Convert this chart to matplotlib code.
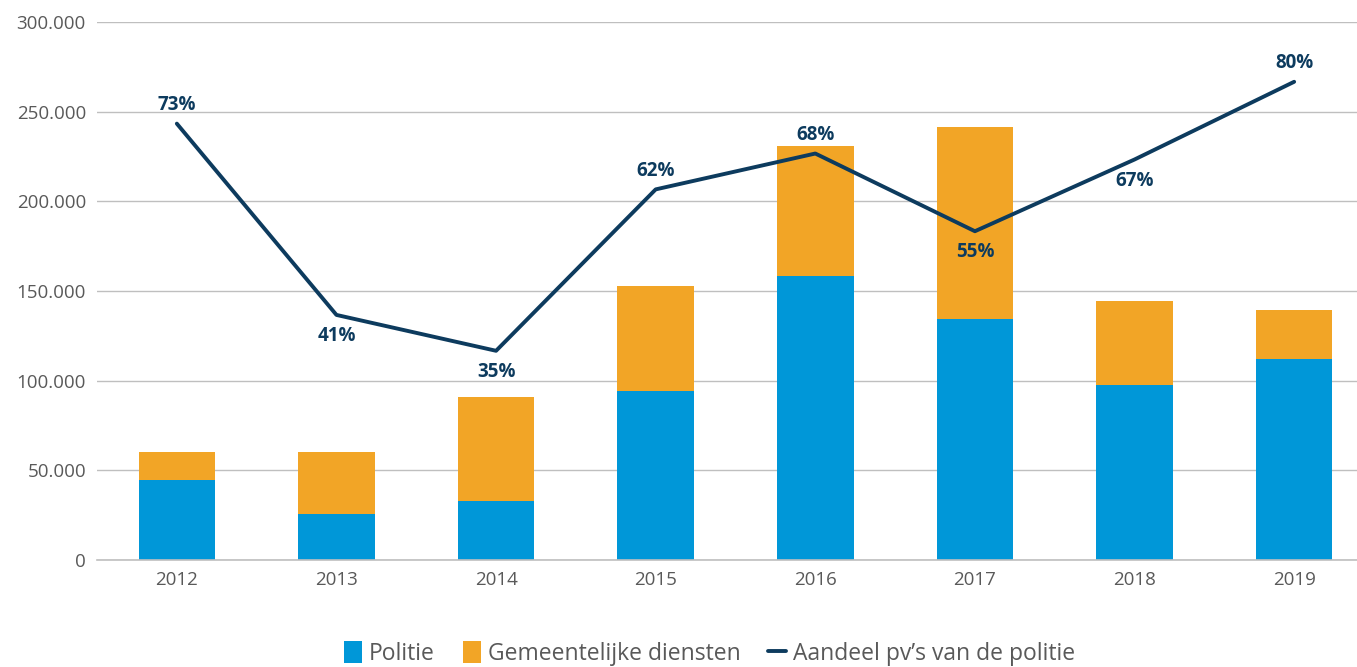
import matplotlib.pyplot as plt
from matplotlib.ticker import FuncFormatter
import numpy as np

plt.rcParams['font.family'] = ['Open Sans', 'DejaVu Sans']

jaren = ['2012', '2013', '2014', '2015', '2016', '2017', '2018', '2019']
politie = [44600, 25700, 32900, 94200, 158400, 134400, 97600, 112100]
gemeente = [15600, 34500, 58000, 58600, 72500, 107000, 46800, 27300]
aandeel = [0.73, 0.41, 0.35, 0.62, 0.68, 0.55, 0.67, 0.80]
label_boven = [True, False, False, True, True, False, False, True]

blauw = '#0097d8'
oranje = '#f2a526'
donker = '#0d3b5e'

fig = plt.figure(figsize=(13.57, 6.67), dpi=100)
ax = fig.add_axes([0.0715, 0.1604, 0.941, 0.8066])
x = np.arange(len(jaren))

ax.bar(x, politie, width=0.48, color=blauw, label='Politie', zorder=2)
ax.bar(x, gemeente, width=0.48, bottom=politie, color=oranje,
       label='Gemeentelijke diensten', zorder=2)

ax.set_ylim(0, 300000)
ax.set_yticks(range(0, 300001, 50000))
ax.yaxis.set_major_formatter(FuncFormatter(lambda v, p: f'{int(v):,}'.replace(',', '.')))
ax.set_xlim(-0.5, len(jaren) - 0.5)
ax.set_xticks(x)
ax.set_xticklabels(jaren)
ax.grid(axis='y', color='#bfbfbf', linewidth=1, zorder=0)
for s in ['top', 'right', 'left']:
    ax.spines[s].set_visible(False)
ax.spines['bottom'].set_color('#bfbfbf')
ax.spines['bottom'].set_linewidth(1.2)
ax.tick_params(length=0, labelsize=13.5, labelcolor='#595959', pad=8)

ax2 = ax.twinx()
ax2.set_ylim(0, 0.9)
ax2.axis('off')
ax2.plot(x, aandeel, color=donker, linewidth=2.8, solid_capstyle='round',
         label="Aandeel pv\u2019s van de politie")
for xi, v, boven in zip(x, aandeel, label_boven):
    ax2.annotate(f'{round(v * 100)}%', (xi, v), xytext=(0, 6 if boven else -8),
                 textcoords='offset points', ha='center',
                 va='bottom' if boven else 'top',
                 fontsize=13.5, fontweight='bold', color=donker)

h1, l1 = ax.get_legend_handles_labels()
h2, l2 = ax2.get_legend_handles_labels()
fig.legend(h1 + h2, l1 + l2, loc='center', bbox_to_anchor=(0.523, 0.02),
           ncol=3, frameon=False, fontsize=16.5, labelcolor='#595959',
           handlelength=0.8, handleheight=1.1, handletextpad=0.3, columnspacing=1.2)

fig.savefig('out.png', dpi=100)
